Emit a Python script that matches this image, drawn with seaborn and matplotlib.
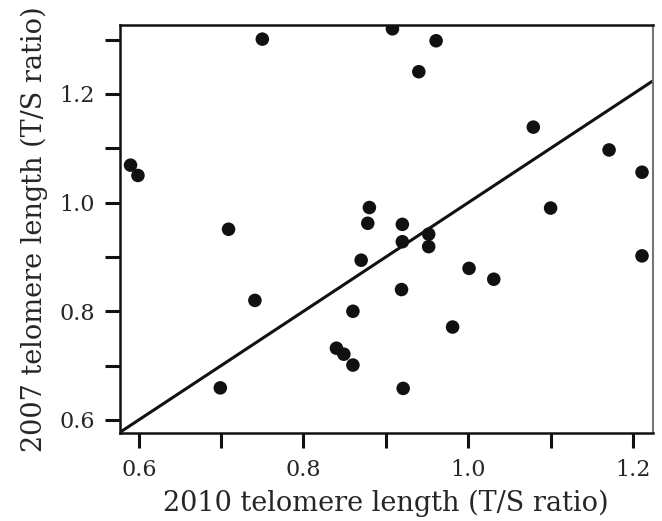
import numpy as np
import pandas as pd
import seaborn as sns
import matplotlib.pyplot as plt

# telomere length, T/S ratio
tl_2010 = [0.590, 0.599, 0.709, 0.750, 0.908, 0.961, 0.940, 1.079, 1.171, 1.211,
           1.100, 0.880, 0.878, 0.920, 0.952, 0.920, 0.952, 0.870, 1.211, 1.001,
           1.031, 0.919, 0.860, 0.981, 0.840, 0.849, 0.860, 0.921, 0.741, 0.699]
tl_2007 = [1.069, 1.050, 0.951, 1.301, 1.320, 1.298, 1.241, 1.139, 1.097, 1.056,
           0.990, 0.991, 0.962, 0.960, 0.942, 0.928, 0.919, 0.894, 0.902, 0.879,
           0.859, 0.840, 0.800, 0.771, 0.732, 0.721, 0.701, 0.658, 0.820, 0.659]

df = pd.DataFrame({'x': tl_2010, 'y': tl_2007})

sns.set_style("ticks")
plt.rcParams['font.family'] = ['DejaVu Serif']

fig = plt.figure(figsize=(6.62, 5.21), dpi=100)
ax = fig.add_axes([0.181, 0.169, 0.805, 0.783])

sns.scatterplot(data=df, x='x', y='y', color='#111111', s=95, edgecolor='none', ax=ax)
# line of identity
ax.axline((0, 0), slope=1, color='#111111', lw=2.2)

ax.set_xlim(0.577, 1.224)
ax.set_ylim(0.576, 1.327)

xt = np.round(np.arange(0.6, 1.21, 0.1), 1)
yt = np.round(np.arange(0.6, 1.31, 0.1), 1)
ax.set_xticks(xt)
ax.set_xticklabels([f"{v:.1f}" if round(v * 10) % 2 == 0 else "" for v in xt])
ax.set_yticks(yt)
ax.set_yticklabels([f"{v:.1f}" if round(v * 10) % 2 == 0 else "" for v in yt])
ax.tick_params(length=11, width=2.2, labelsize=16, color='#111111')
ax.tick_params(axis='x', pad=8)
ax.tick_params(axis='y', pad=7)

for side in ['left', 'bottom', 'top']:
    ax.spines[side].set_linewidth(1.8)
    ax.spines[side].set_color('#111111')
ax.spines['right'].set_linewidth(1.5)
ax.spines['right'].set_color('#777777')

ax.set_xlabel("2010 telomere length (T/S ratio)", fontsize=19.5, labelpad=6)
ax.set_ylabel("2007 telomere length (T/S ratio)", fontsize=19.5, labelpad=8)

plt.savefig("out.png", dpi=100)
